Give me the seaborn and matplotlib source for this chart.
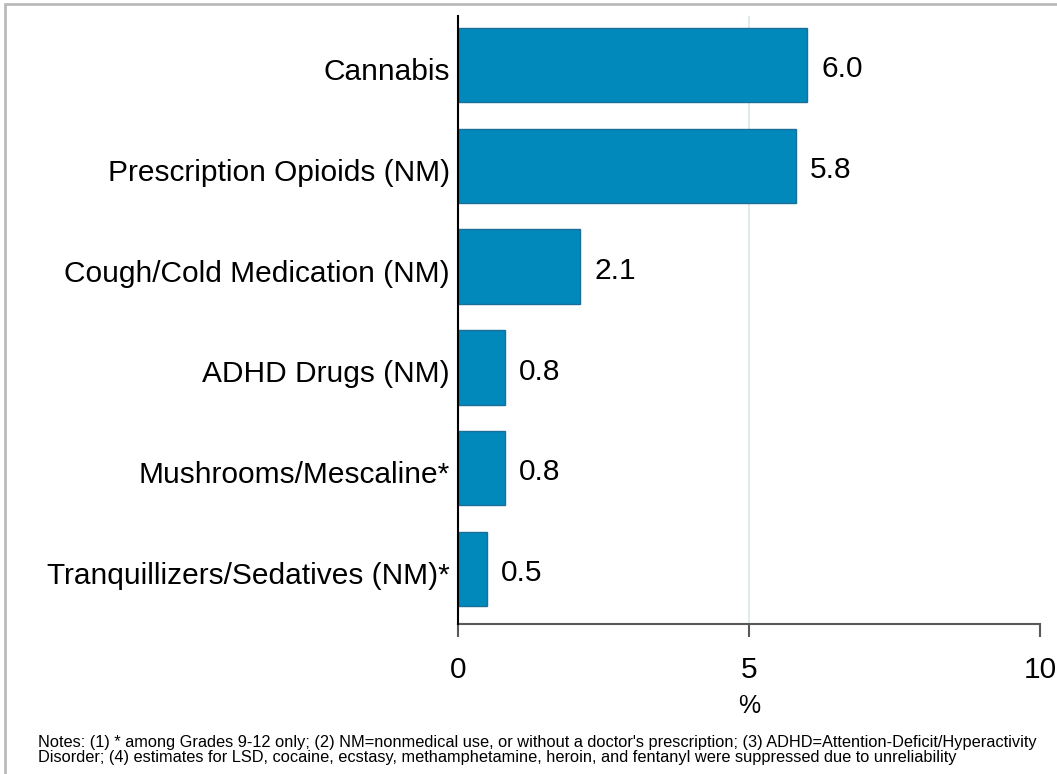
import pandas as pd
import matplotlib.pyplot as plt
import matplotlib.lines as mlines
import matplotlib.transforms as mtrans
import seaborn as sns

# === Data ===
substances = [
    "Cannabis",
    "Prescription Opioids (NM)",
    "Cough/Cold Medication (NM)",
    "ADHD Drugs (NM)",
    "Mushrooms/Mescaline*",
    "Tranquillizers/Sedatives (NM)*",
]
percent = [6.0, 5.8, 2.1, 0.8, 0.8, 0.5]
x_ticks = [0, 5, 10]

notes = (
    "Notes: (1) * among Grades 9-12 only; (2) NM=nonmedical use, or without a doctor's prescription; "
    "(3) ADHD=Attention-Deficit/Hyperactivity\n"
    "Disorder; (4) estimates for LSD, cocaine, ecstasy, methamphetamine, heroin, and fentanyl "
    "were suppressed due to unreliability"
)


def main():
    df = pd.DataFrame({"substance": substances, "pct": percent})

    sns.set_theme(style="white")
    plt.rcParams["font.family"] = ["Liberation Sans", "DejaVu Sans"]
    plt.rcParams["text.color"] = "black"
    plt.rcParams["xtick.color"] = "black"
    plt.rcParams["ytick.color"] = "black"
    plt.rcParams["axes.labelcolor"] = "black"

    fig = plt.figure(figsize=(10.57, 7.74), dpi=100)
    ax = fig.add_axes([0.4333, 0.1938, 0.9839 - 0.4333, 0.9793 - 0.1938])

    sns.barplot(
        data=df, x="pct", y="substance", orient="h",
        color="#0289BC", edgecolor="#1B6E98", linewidth=1.0,
        width=0.74, saturation=1, ax=ax,
    )

    ax.set_xlim(0, 10)
    ax.set_ylim(5.546, -0.486)
    ax.set_xticks(x_ticks)
    ax.set_xticklabels([str(t) for t in x_ticks], fontsize=21.5)
    ax.tick_params(axis="x", length=9, width=1.5, color="#595959", pad=14, bottom=True,
                   labelcolor="black")
    ax.tick_params(axis="y", length=0, pad=6, labelsize=21.5, labelcolor="black")
    ax.set_ylabel("")
    ax.set_xlabel("%", fontsize=18, labelpad=7)

    # nudge category labels slightly below bar centres, as in the original
    shift = mtrans.ScaledTranslation(0, -4 / 100, fig.dpi_scale_trans)
    for lab in ax.get_yticklabels():
        lab.set_transform(lab.get_transform() + shift)

    # light vertical grid at 5
    ax.axvline(5, color="#E3E9EC", lw=1.5, zorder=0)

    for s in ["top", "right"]:
        ax.spines[s].set_visible(False)
    ax.spines["bottom"].set_color("#595959")
    ax.spines["bottom"].set_linewidth(1.5)
    ax.spines["left"].set_color("black")
    ax.spines["left"].set_linewidth(1.5)
    ax.spines["left"].set_zorder(5)

    # value labels
    for i, v in enumerate(percent):
        ax.annotate(f"{v:.1f}", (v, i), xytext=(10, -3), textcoords="offset points",
                    va="center", ha="left", fontsize=21.5)

    fig.text(0.036, 0.012, notes, fontsize=11.8, ha="left", va="bottom",
             linespacing=0.95)

    # outer frame (top and left edges)
    fig.add_artist(mlines.Line2D([0.005, 1.0], [0.9944, 0.9944], transform=fig.transFigure,
                                 color="#BBBBBB", lw=2))
    fig.add_artist(mlines.Line2D([0.0052, 0.0052], [0.0, 0.9944], transform=fig.transFigure,
                                 color="#BBBBBB", lw=2))

    fig.savefig("out.png", dpi=100)


if __name__ == "__main__":
    main()
